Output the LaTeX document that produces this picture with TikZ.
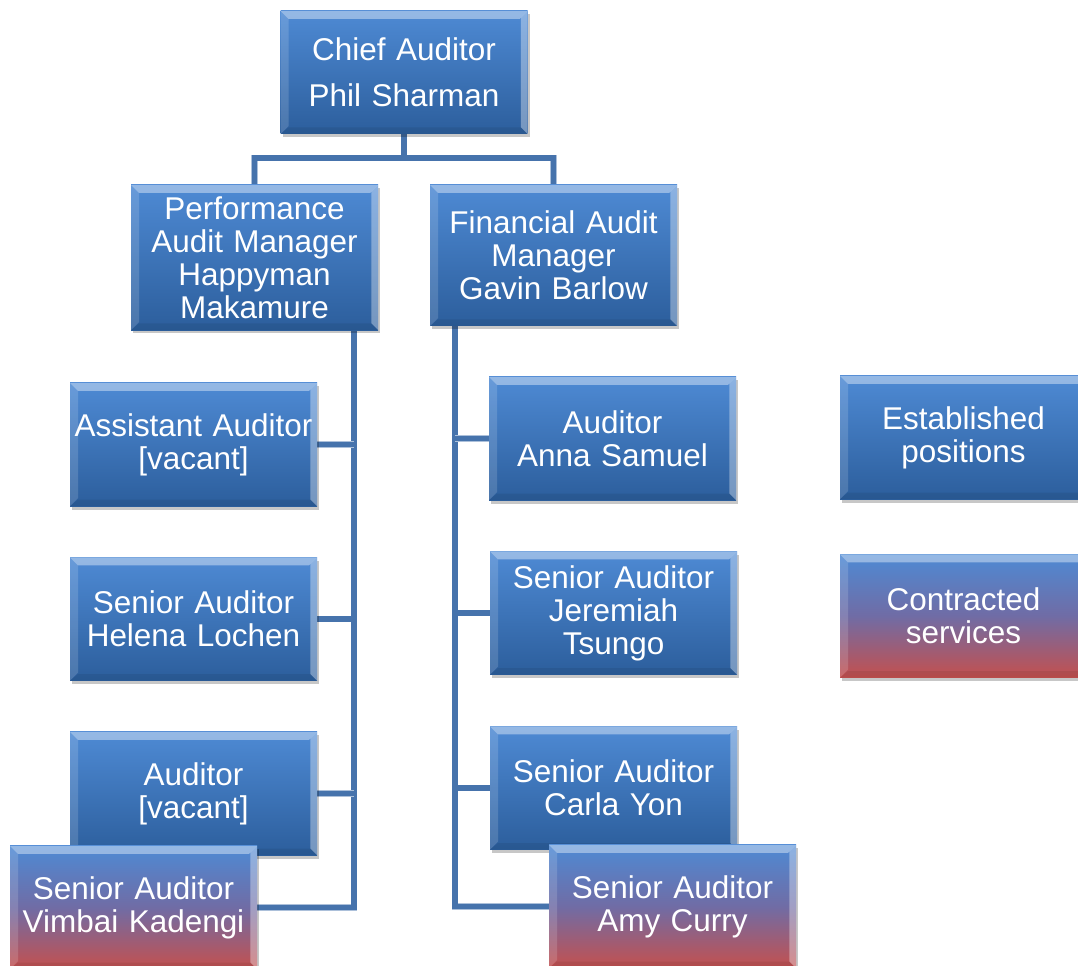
\documentclass[tikz,border=0pt]{standalone}
\usepackage{fontspec}
\setmainfont{Liberation Sans}
\usetikzlibrary{shadows}
\pgfdeclarelayer{bg}
\pgfsetlayers{bg,main}
\definecolor{topblue}{RGB}{78,138,212}
\definecolor{botblue}{RGB}{44,94,156}
\definecolor{midred}{RGB}{112,108,165}
\definecolor{botred}{RGB}{196,80,78}
\definecolor{connblue}{RGB}{70,115,172}
\newcommand\boxfont{\fontsize{23.6}{24.75}\selectfont}
\newcommand\bevel{%
  \fill[white,opacity=.4] (path picture bounding box.north west) -- (path picture bounding box.north east)
    -- ([shift={(-6pt,-6pt)}]path picture bounding box.north east) -- ([shift={(6pt,-6pt)}]path picture bounding box.north west) -- cycle;
  \fill[white,opacity=.15] (path picture bounding box.north west) -- ([shift={(6pt,-6pt)}]path picture bounding box.north west)
    -- ([shift={(6pt,6pt)}]path picture bounding box.south west) -- (path picture bounding box.south west) -- cycle;
  \fill[white,opacity=.35] (path picture bounding box.north east) -- ([shift={(-5pt,-5pt)}]path picture bounding box.north east)
    -- ([shift={(-5pt,5pt)}]path picture bounding box.south east) -- (path picture bounding box.south east) -- cycle;
  \fill[black,opacity=.07] (path picture bounding box.south west) -- ([shift={(6pt,5pt)}]path picture bounding box.south west)
    -- ([shift={(-5pt,5pt)}]path picture bounding box.south east) -- (path picture bounding box.south east) -- cycle;
}
\tikzset{
  box/.style={rectangle,minimum width=185.25pt,minimum height=92.5pt,inner sep=2pt,
    text width=181pt,align=center,text=white,font=\boxfont,
    top color=topblue,bottom color=botblue,
    drop shadow={shadow xshift=1.5pt,shadow yshift=-2.5pt,opacity=.22,fill=black},
    path picture={\bevel}},
  redbox/.style={box,top color=topblue,bottom color=botred,middle color=midred},
  conn/.style={draw=connblue,line width=3.8pt,
    preaction={draw=connblue!45,line width=4.8pt}}
}
\begin{document}
\begin{tikzpicture}[x=0.75pt,y=-0.75pt]
\useasboundingbox (0,0) rectangle (1078,966);
\clip (0,0) rectangle (1078,966);
\node[box,minimum height=92.25pt,font=\fontsize{23.6}{34.5}\selectfont] (chief) at (404,72.5) {Chief Auditor\\Phil Sharman};
\node[box,minimum height=108.75pt] (pam) at (254.5,257.5) {Performance\\Audit Manager\\Happyman\\Makamure};
\node[box,minimum height=105.75pt] (fam) at (553.5,255.5) {Financial Audit\\Manager\\Gavin Barlow};
\node[box] (asst) at (193.5,444.5) {Assistant Auditor\\{[vacant]}};
\node[box] (helena) at (193.5,619) {Senior Auditor\\Helena Lochen};
\node[box] (audv) at (193.5,793.5) {Auditor\\{[vacant]}};
\node[redbox] (vimbai) at (133.5,907.5) {Senior Auditor\\Vimbai Kadengi};
\node[box] (anna) at (612.5,438.5) {Auditor\\Anna Samuel};
\node[box] (jeremiah) at (613.5,613) {Senior Auditor\\Jeremiah\\Tsungo};
\node[box] (carla) at (613.5,788) {Senior Auditor\\Carla Yon};
\node[redbox] (amy) at (672.5,906.5) {Senior Auditor\\Amy Curry};
\node[box] (estab) at (963.5,437.5) {Established\\positions};
\node[redbox] (contr) at (963.5,616) {Contracted\\services};
\coordinate (split) at (404,158);
\coordinate (ptrunk) at (354,330);
\coordinate (ftrunk) at (455,326);
\begin{pgfonlayer}{bg}
  \draw[conn] (chief.south) -- (split);
  \draw[conn] (pam.north) |- (split) -| (fam.north);
  \draw[conn] (ptrunk) |- (vimbai.east);
  \draw[conn] (asst.east) -- (asst.east -| ptrunk);
  \draw[conn] (helena.east) -- (helena.east -| ptrunk);
  \draw[conn] (audv.east) -- (audv.east -| ptrunk);
  \draw[conn] (ftrunk) |- (amy.west);
  \draw[conn] (anna.west) -- (anna.west -| ftrunk);
  \draw[conn] (jeremiah.west) -- (jeremiah.west -| ftrunk);
  \draw[conn] (carla.west) -- (carla.west -| ftrunk);
\end{pgfonlayer}
\end{tikzpicture}
\end{document}
